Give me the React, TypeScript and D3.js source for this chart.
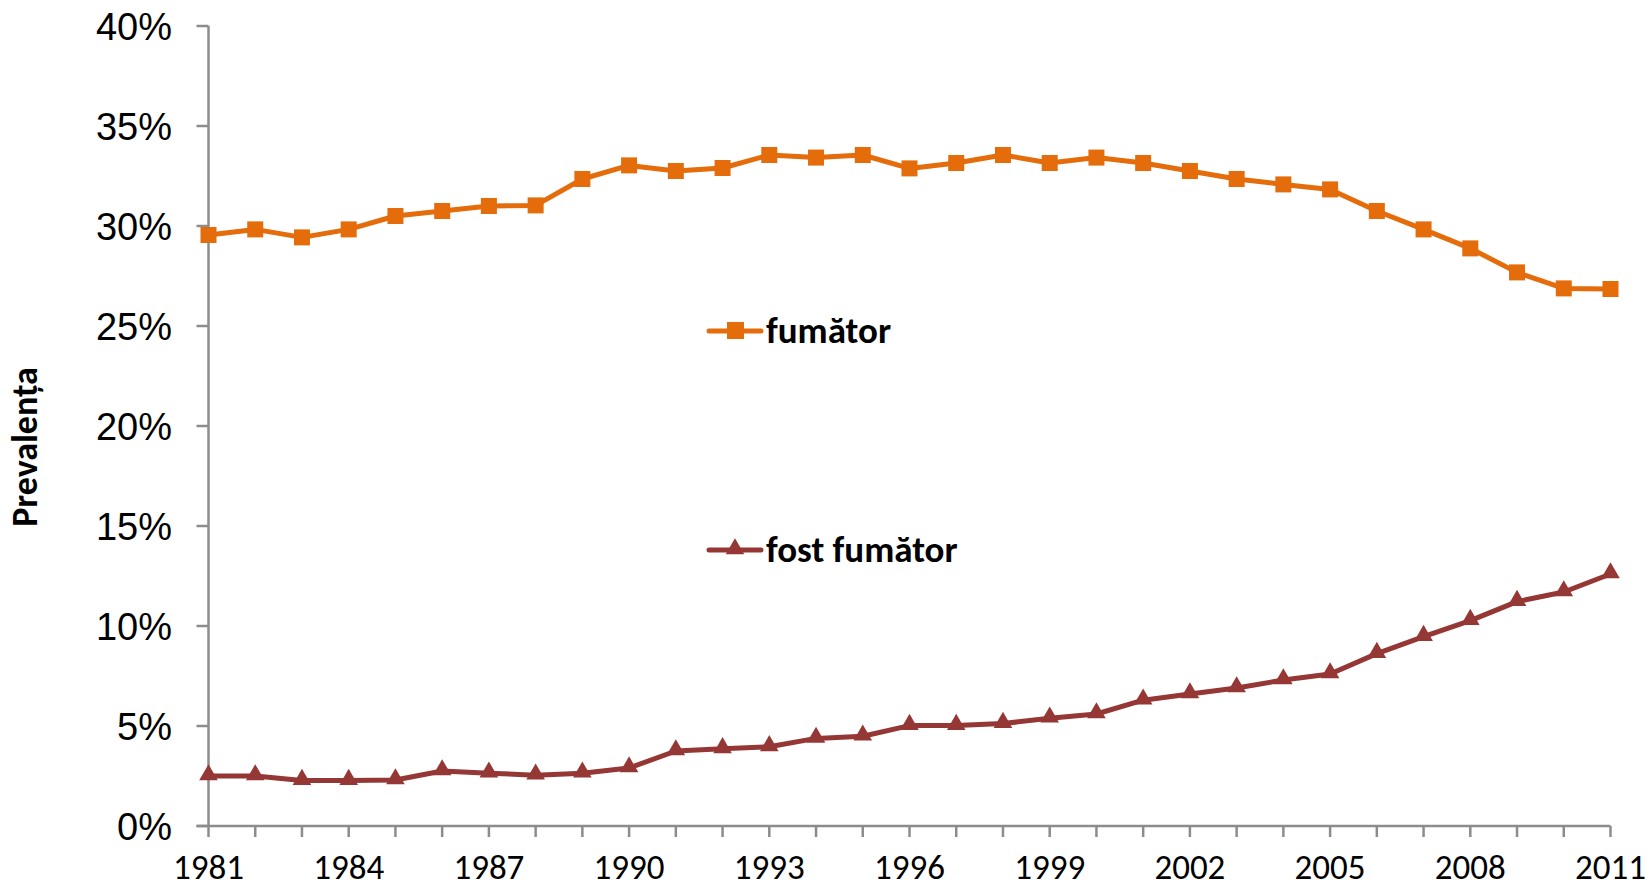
import React, { useEffect, useRef } from "react";
import * as d3 from "d3";

const years: number[] = [
  1981, 1982, 1983, 1984, 1985, 1986, 1987, 1988, 1989, 1990,
  1991, 1992, 1993, 1994, 1995, 1996, 1997, 1998, 1999, 2000,
  2001, 2002, 2003, 2004, 2005, 2006, 2007, 2008, 2009, 2010, 2011,
];

const fumator: number[] = [
  29.55, 29.83, 29.43, 29.83, 30.5, 30.75, 31.0, 31.03, 32.35, 33.03,
  32.75, 32.9, 33.55, 33.42, 33.55, 32.88, 33.15, 33.55, 33.15, 33.42,
  33.15, 32.75, 32.35, 32.08, 31.83, 30.75, 29.83, 28.88, 27.68, 26.88, 26.85,
];

const fostFumator: number[] = [
  2.5, 2.5, 2.27, 2.27, 2.3, 2.75, 2.64, 2.54, 2.64, 2.9,
  3.75, 3.86, 3.96, 4.38, 4.49, 5.02, 5.02, 5.12, 5.39, 5.6,
  6.29, 6.6, 6.9, 7.3, 7.6, 8.62, 9.47, 10.27, 11.22, 11.7, 12.6,
];

const yTicks: number[] = [0, 5, 10, 15, 20, 25, 30, 35, 40];
const xLabelYears: number[] = [1981, 1984, 1987, 1990, 1993, 1996, 1999, 2002, 2005, 2008, 2011];

const seriesNames: string[] = ["fumător", "fost fumător"];
const seriesColors: string[] = ["#E46C0A", "#953735"];
const yAxisTitle = "Prevalența";

const W = 1651;
const H = 889;

export default function App() {
  const ref = useRef<SVGSVGElement | null>(null);

  useEffect(() => {
    const svg = d3.select(ref.current);
    svg.selectAll("*").remove();

    const x = d3.scaleLinear().domain([1981, 2011]).range([208.5, 1610.5]);
    const y = d3.scaleLinear().domain([0, 40]).range([826, 26]);
    const axisColor = "#8C8C8C";

    // y axis
    svg.append("line")
      .attr("x1", x(1981)).attr("x2", x(1981))
      .attr("y1", y(40)).attr("y2", y(0))
      .attr("stroke", axisColor).attr("stroke-width", 2.5);
    svg.selectAll(".ytick").data(yTicks).enter().append("line")
      .attr("x1", x(1981) - 12).attr("x2", x(1981))
      .attr("y1", (d) => y(d)).attr("y2", (d) => y(d))
      .attr("stroke", axisColor).attr("stroke-width", 2.5);
    svg.selectAll(".ylab").data(yTicks).enter().append("text")
      .attr("x", 172).attr("y", (d) => y(d))
      .attr("dy", "0.36em")
      .attr("text-anchor", "end")
      .attr("font-family", "'Liberation Sans', Arial, sans-serif")
      .attr("font-size", 38)
      .attr("fill", "#000")
      .text((d) => `${d}%`);

    // x axis
    svg.append("line")
      .attr("x1", x(1981) - 12).attr("x2", x(2011))
      .attr("y1", y(0)).attr("y2", y(0))
      .attr("stroke", axisColor).attr("stroke-width", 2.5);
    svg.selectAll(".xtick").data(years).enter().append("line")
      .attr("x1", (d) => x(d)).attr("x2", (d) => x(d))
      .attr("y1", y(0)).attr("y2", y(0) + 11)
      .attr("stroke", axisColor).attr("stroke-width", 2.5);
    svg.selectAll(".xlab").data(xLabelYears).enter().append("text")
      .attr("x", (d) => x(d)).attr("y", 879)
      .attr("text-anchor", "middle")
      .attr("font-family", "Carlito, Lato, sans-serif")
      .attr("font-size", 35)
      .attr("fill", "#000")
      .text((d) => String(d));

    // y title
    svg.append("text")
      .attr("transform", `translate(37,447) rotate(-90)`)
      .attr("text-anchor", "middle")
      .attr("font-family", "Carlito, Lato, sans-serif")
      .attr("font-weight", "bold")
      .attr("font-size", 36)
      .attr("fill", "#000")
      .text(yAxisTitle);

    const line = d3.line<number>()
      .x((_, i) => x(years[i]))
      .y((d) => y(d));

    const tri = d3.symbol().type(d3.symbolTriangle).size(150);

    // fumator
    svg.append("path").datum(fumator)
      .attr("d", line).attr("fill", "none")
      .attr("stroke", seriesColors[0]).attr("stroke-width", 5)
      .attr("stroke-linejoin", "round");
    svg.selectAll(".sq").data(fumator).enter().append("rect")
      .attr("x", (_, i) => x(years[i]) - 8).attr("y", (d) => y(d) - 8)
      .attr("width", 16).attr("height", 16)
      .attr("fill", seriesColors[0]);

    // fost fumator
    svg.append("path").datum(fostFumator)
      .attr("d", line).attr("fill", "none")
      .attr("stroke", seriesColors[1]).attr("stroke-width", 5)
      .attr("stroke-linejoin", "round");
    svg.selectAll(".tr").data(fostFumator).enter().append("path")
      .attr("d", tri)
      .attr("transform", (d, i) => `translate(${x(years[i])},${y(d) - 1})`)
      .attr("fill", seriesColors[1]);

    // legend
    const legendY = [331, 550];
    seriesNames.forEach((name, i) => {
      const g = svg.append("g");
      g.append("line")
        .attr("x1", 709).attr("x2", 761)
        .attr("y1", legendY[i]).attr("y2", legendY[i])
        .attr("stroke", seriesColors[i]).attr("stroke-width", 5)
        .attr("stroke-linecap", "round");
      if (i === 0) {
        g.append("rect").attr("x", 727).attr("y", legendY[i] - 9)
          .attr("width", 17).attr("height", 17).attr("fill", seriesColors[i]);
      } else {
        g.append("path").attr("d", tri)
          .attr("transform", `translate(735,${legendY[i] - 1})`)
          .attr("fill", seriesColors[i]);
      }
      g.append("text")
        .attr("x", 766).attr("y", legendY[i] + 12)
        .attr("font-family", "Carlito, Lato, sans-serif")
        .attr("font-weight", "bold")
        .attr("font-size", 37)
        .attr("fill", "#000")
        .text(name);
    });
  }, []);

  return (
    <svg
      ref={ref}
      width={W}
      height={H}
      style={{ position: "absolute", left: 0, top: 0, background: "#fff" }}
    />
  );
}
